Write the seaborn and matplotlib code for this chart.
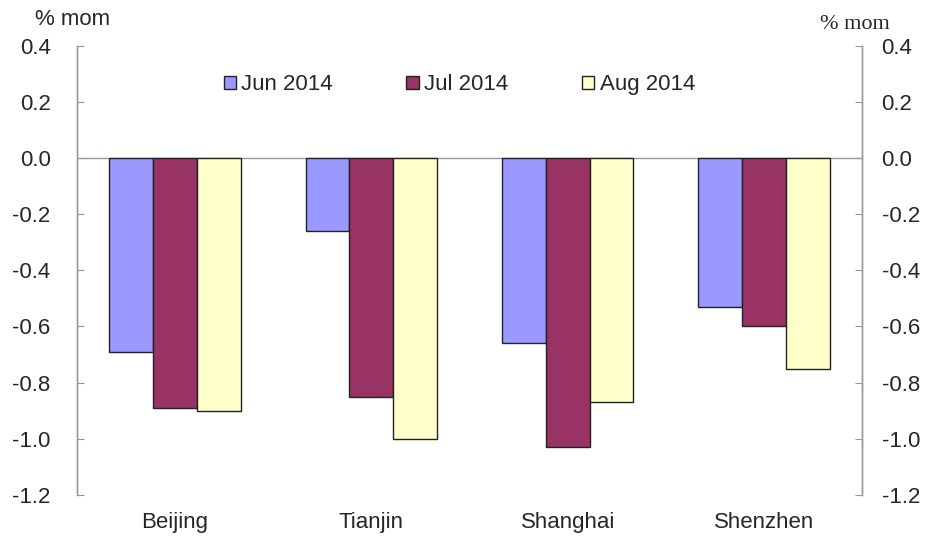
import matplotlib
matplotlib.use("Agg")
import matplotlib.pyplot as plt
import seaborn as sns
import pandas as pd

cities = ["Beijing", "Tianjin", "Shanghai", "Shenzhen"]
months = ["Jun 2014", "Jul 2014", "Aug 2014"]
jun = [-0.69, -0.26, -0.66, -0.53]
jul = [-0.89, -0.85, -1.03, -0.60]
aug = [-0.90, -1.00, -0.87, -0.75]
colors = ["#9999FF", "#993366", "#FFFFCC"]
yticks = [0.4, 0.2, 0.0, -0.2, -0.4, -0.6, -0.8, -1.0, -1.2]

rows = []
for m, vals in zip(months, [jun, jul, aug]):
    for c, v in zip(cities, vals):
        rows.append({"city": c, "month": m, "value": v})
df = pd.DataFrame(rows)

sns.set_style("white")
plt.rcParams["font.family"] = ["Liberation Sans", "DejaVu Sans"]

fig = plt.figure(figsize=(9.27, 5.38), dpi=100)
ax = fig.add_axes([0.083, 0.080, 0.847, 0.835])

sns.barplot(data=df, x="city", y="value", hue="month", order=cities,
            hue_order=months, palette=colors, edgecolor="#222222",
            linewidth=1.0, width=0.67, saturation=1, ax=ax)

ax.axhline(0, color="#999999", linewidth=1.0, zorder=0.5)
ax.set_ylim(-1.2, 0.4)
ax.set_xlim(-0.5, 3.5)
ax.set_yticks(yticks)
ax.set_yticklabels([f"{t:.1f}" for t in yticks], fontsize=16)
ax.set_xlabel("")
ax.set_ylabel("")
ax.tick_params(axis="x", length=0, labelsize=16, pad=12)
ax.tick_params(axis="y", direction="in", length=5, color="#999999", pad=19)

ax2 = ax.twinx()
ax2.set_ylim(-1.2, 0.4)
ax2.set_yticks(yticks)
ax2.set_yticklabels([f"{t:.1f}" for t in yticks], fontsize=16)
ax2.tick_params(axis="y", direction="in", length=5, color="#999999", pad=14)

for a in (ax, ax2):
    for s in ("top", "bottom"):
        a.spines[s].set_visible(False)
    for s in ("left", "right"):
        a.spines[s].set_color("#999999")
        a.spines[s].set_linewidth(1.0)

ax.text(-0.054, 1.035, "% mom", transform=ax.transAxes, fontsize=16,
        ha="left", va="bottom")
ax2.text(1.035, 1.025, "% mom", transform=ax2.transAxes, fontsize=16,
         ha="right", va="bottom", family=["Liberation Serif", "DejaVu Serif"])

handles, labels = ax.get_legend_handles_labels()
ax.legend(handles, labels, loc="center", bbox_to_anchor=(0.487, 0.913),
          ncol=3, frameon=False, fontsize=16, handlelength=0.55,
          handleheight=0.55, handletextpad=0.25, columnspacing=3.3)

fig.savefig("out.png", dpi=100)
